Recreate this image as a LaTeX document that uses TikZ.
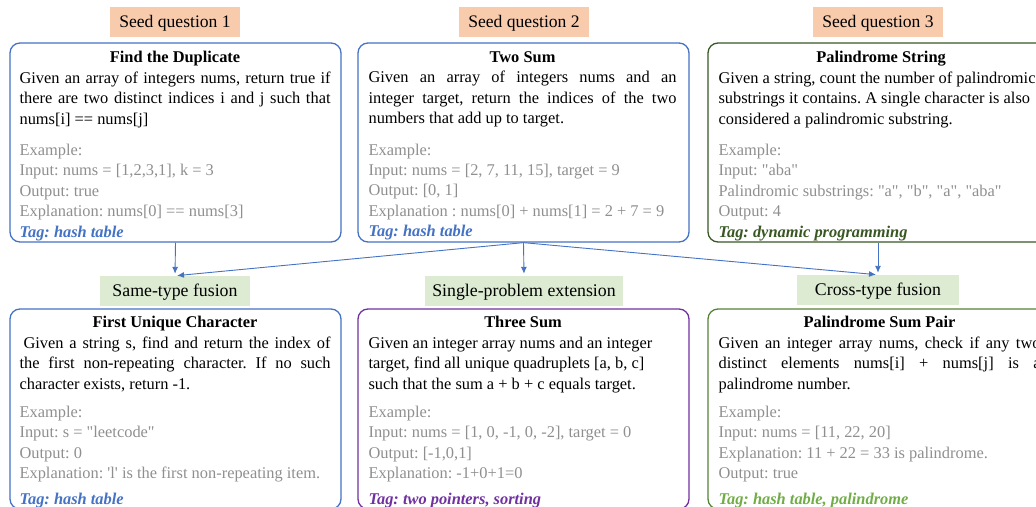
\documentclass[tikz,border=0pt]{standalone}
\usepackage{fontspec}
\setmainfont{Liberation Serif}
\usetikzlibrary{arrows.meta}
\definecolor{bblue}{HTML}{4472C4}
\definecolor{dgreen}{HTML}{385723}
\definecolor{mgreen}{HTML}{548235}
\definecolor{lgreen}{HTML}{70AD47}
\definecolor{purp}{HTML}{7030A0}
\definecolor{seedfill}{HTML}{F8CBAD}
\definecolor{opfill}{HTML}{DCEBD2}
\definecolor{exgray}{HTML}{8F8F8F}
\hyphenpenalty=10000
\exhyphenpenalty=10000
\frenchspacing
\newcommand\qtitle[1]{{\centering\bfseries #1\par}}
\newcommand\qex[1]{{\color{exgray}\raggedright #1\par}}
\newcommand\qtag[2]{{\color{#1}\bfseries\itshape\raggedright #2\par}}
\newcommand\dq{\textquotedbl}
\newcommand\sq{\textquotesingle}
\begin{document}
\begin{tikzpicture}[x=1pt,y=-1pt,
  qbox/.style={draw=#1, line width=1.3pt, rounded corners=10pt, minimum height=199pt, inner sep=0pt},
  seedlab/.style={fill=seedfill, minimum width=130pt, minimum height=30pt, inner sep=0pt, text height=12.5pt, text depth=1.5pt, font=\fontsize{17.6}{20}\selectfont},
  oplab/.style={fill=opfill, minimum height=30pt, inner sep=0pt, text height=12.5pt, text depth=2.5pt, font=\fontsize{17.8}{20}\selectfont},
  txt/.style={anchor=north west, inner sep=0pt, text width=#1, align=justify, font=\fontsize{16.4}{20.4}\selectfont\frenchspacing},
  arr/.style={-{Latex[length=7pt,width=6pt]}, draw=bblue, line width=0.9pt, shorten >=2pt}]
\path[use as bounding box, clip] (0,0) rectangle (1036,506);
% seed labels
\node[seedlab] (s1) at (175,22) {Seed question 1};
\node[seedlab] (s2) at (524,22) {Seed question 2};
\node[seedlab] (s3) at (878,22) {Seed question 3};
% top boxes
\node[qbox=bblue, minimum width=331pt] (b1) at (175.5,142.5) {};
\node[qbox=bblue, minimum width=331pt] (b2) at (523.5,142.5) {};
\node[qbox=dgreen, minimum width=340pt] (b3) at (878,142.5) {};
\node[txt=311pt] (t1) at ([xshift=10pt,yshift=-9pt]b1.north west) {%
\qtitle{Find the Duplicate}
Given an array of integers nums, return true if\linebreak there are two distinct indices i and j such that\linebreak nums[i] == nums[j]\par
\vspace{11pt}
\qex{Example:\\Input: nums = [1,2,3,1], k = 3\\Output: true\\Explanation: nums[0] == nums[3]}
\qtag{bblue}{Tag: hash table}};
\node[txt=308pt] (t2) at ([xshift=11pt,yshift=-9pt]b2.north west) {%
\qtitle{Two Sum}
Given an array of integers nums and an\linebreak integer target, return the indices of the two\linebreak numbers that add up to target.\par
\vspace{11pt}
\qex{Example:\\Input: nums = [2, 7, 11, 15], target = 9\\Output: [0, 1]\\Explanation : nums[0] + nums[1] = 2 + 7 = 9}
\qtag{bblue}{Tag: hash table}};
\node[txt=325pt] (t3) at ([xshift=11pt,yshift=-9pt]b3.north west) {%
\qtitle{Palindrome String}
{\raggedright Given a string, count the number of palindromic\\substrings it contains. A single character is also\\considered a palindromic substring.\par}
\vspace{11pt}
\qex{Example:\\Input: \dq aba\dq\\Palindromic substrings: \dq a\dq, \dq b\dq, \dq a\dq, \dq aba\dq\\Output: 4}
\qtag{dgreen}{Tag: dynamic programming}};
% operation labels
\node[oplab, minimum width=150pt] (l1) at (175,291) {Same-type fusion};
\node[oplab, minimum width=198pt] (l2) at (524,291) {Single-problem extension};
\node[oplab, minimum width=162pt] (l3) at (878,290) {Cross-type fusion};
% bottom boxes
\node[qbox=bblue, minimum width=331pt, minimum height=200pt] (b4) at (175.5,409) {};
\node[qbox=purp, minimum width=331pt, minimum height=200pt] (b5) at (523.5,409) {};
\node[qbox=mgreen, minimum width=340pt, minimum height=200pt] (b6) at (878,409) {};
\node[txt=311pt] (t4) at ([xshift=10pt,yshift=-8pt]b4.north west) {%
\qtitle{First Unique Character}
\hspace*{4pt}Given a string s, find and return the index of\linebreak the first non-repeating character. If no such\linebreak character exists, return -1.\par
\vspace{8pt}
\qex{Example:\\Input: s = \dq leetcode\dq\\Output: 0\\Explanation: \sq l\sq\ is the first non-repeating item.}
\vspace{5pt}
\qtag{bblue}{Tag: hash table}};
\node[txt=309pt] (t5) at ([xshift=11pt,yshift=-8pt]b5.north west) {%
\qtitle{Three Sum}
{\raggedright Given an integer array nums and an integer\\target, find all unique quadruplets [a, b, c]\\such that the sum a + b + c equals target.\par}
\vspace{8pt}
\qex{Example:\\Input: nums = [1, 0, -1, 0, -2], target = 0\\Output: [-1,0,1]\\Explanation: -1+0+1=0}
\vspace{5pt}
\qtag{purp}{Tag: two pointers, sorting}};
\node[txt=322pt] (t6) at ([xshift=11pt,yshift=-8pt]b6.north west) {%
\qtitle{Palindrome Sum Pair}
Given an integer array nums, check if any two\linebreak distinct elements nums[i] + nums[j] is a\linebreak palindrome number.\par
\vspace{8pt}
\qex{Example:\\Input: nums = [11, 22, 20]\\Explanation: 11 + 22 = 33 is palindrome.\\Output: true}
\vspace{5pt}
\qtag{lgreen}{Tag: hash table, palindrome}};
% arrows
\draw[arr] (b1.south) -- (l1.north);
\draw[arr] (b2.south) -- (l1.north);
\draw[arr] (b2.south) -- (l2.north);
\draw[arr] (b2.south) -- (l3.north);
\draw[arr] (b3.south) -- (l3.north);
\end{tikzpicture}
\end{document}
